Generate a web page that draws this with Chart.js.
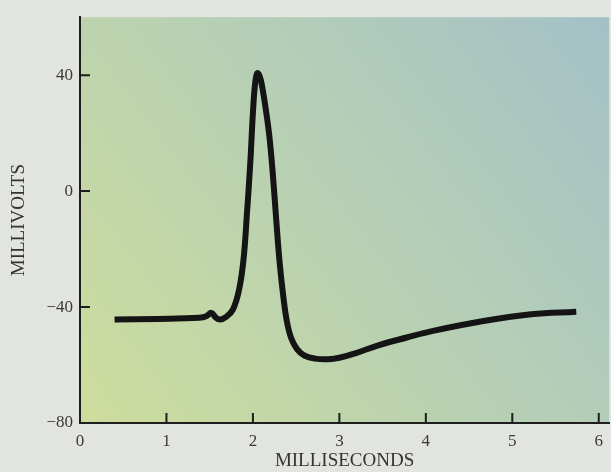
<!DOCTYPE html>
<html>
<head>
<meta charset="utf-8">
<script src="https://cdn.jsdelivr.net/npm/chart.js@4"></script>
<style>
    html, body { margin: 0; padding: 0; background: #e2e4df; }
    #wrap { width: 611px; height: 472px; }
</style>
</head>
<body>
<div id="wrap"><canvas id="actionPotential"></canvas></div>
<script>
// Trace: time in ms, membrane potential in mV
const timeMs = [0.40, 0.90, 1.38, 1.46, 1.52, 1.57, 1.62, 1.69, 1.77, 1.84, 1.89, 1.93, 1.97, 2.00, 2.025, 2.05,
    2.08, 2.11, 2.15, 2.19, 2.23, 2.27, 2.31, 2.35, 2.39, 2.44, 2.51, 2.60, 2.72, 2.87, 3.00,
    3.20, 3.45, 3.78, 4.07, 4.65, 5.22, 5.74];
const millivolts = [-44.3, -44.1, -43.7, -43.2, -42.0, -43.6, -44.3, -43.4, -40.8, -34.0, -24.0, -8.2, 10.0, 27.0, 37.0, 40.7,
    39.5, 35.5, 28.0, 19.0, 6.0, -10.0, -25.0, -36.0, -44.5, -50.5, -54.5, -56.8, -57.8, -58.0, -57.5,
    -55.8, -53.2, -50.5, -48.3, -44.9, -42.5, -41.6];

// Axis ticks
const xTicks = [0, 1, 2, 3, 4, 5, 6];
const yTicks = [-80, -40, 0, 40];

const points = timeMs.map((t, i) => ({ x: t, y: millivolts[i] }));

// Paints the coloured panel behind the plot
const panelBackground = {
    id: 'panelBackground',
    beforeDraw(chart) {
        const { ctx, chartArea: a } = chart;
        const g = ctx.createLinearGradient(a.left, a.bottom, a.right, a.top);
        g.addColorStop(0, 'rgb(206, 221, 156)');
        g.addColorStop(0.3, 'rgb(192, 213, 170)');
        g.addColorStop(0.65, 'rgb(177, 204, 186)');
        g.addColorStop(1, 'rgb(163, 192, 198)');
        ctx.save();
        ctx.fillStyle = g;
        ctx.fillRect(a.left, a.top, a.right - a.left, a.bottom - a.top);
        ctx.restore();
    }
};

// Tick marks pointing into the plot
const innerTicks = {
    id: 'innerTicks',
    afterDraw(chart) {
        const { ctx, chartArea: a, scales } = chart;
        ctx.save();
        ctx.strokeStyle = '#1e1e1e';
        ctx.lineWidth = 2;
        ctx.beginPath();
        scales.x.ticks.forEach(t => {
            const px = scales.x.getPixelForValue(t.value);
            if (px <= a.left + 1) return;
            ctx.moveTo(px, a.bottom);
            ctx.lineTo(px, a.bottom - 10);
        });
        scales.y.ticks.forEach(t => {
            const py = scales.y.getPixelForValue(t.value);
            if (py >= a.bottom - 1) return;
            ctx.moveTo(a.left, py);
            ctx.lineTo(a.left + 10, py);
        });
        ctx.stroke();
        ctx.restore();
    }
};

const ctx = document.getElementById('actionPotential').getContext('2d');

new Chart(ctx, {
    type: 'line',
    data: {
        datasets: [{
            data: points,
            borderColor: '#141414',
            borderWidth: 6,
            pointRadius: 0,
            tension: 0.4,
            borderCapStyle: 'butt',
            borderJoinStyle: 'round'
        }]
    },
    options: {
        responsive: true,
        maintainAspectRatio: false,
        animation: false,
        layout: { padding: { top: 14, right: 0, left: 0, bottom: 0 } },
        plugins: {
            legend: { display: false },
            tooltip: { enabled: false }
        },
        scales: {
            x: {
                type: 'linear',
                min: 0,
                max: 6.12,
                afterBuildTicks: s => { s.ticks = xTicks.map(v => ({ value: v })); },
                afterFit: s => { s.height = 49; },
                grid: { display: true, drawOnChartArea: false, drawTicks: false },
                border: { display: true, color: '#1e1e1e', width: 2 },
                ticks: {
                    color: '#3a3a3a',
                    padding: 8,
                    maxRotation: 0,
                    font: { family: 'Liberation Serif', size: 17 }
                },
                title: {
                    display: true,
                    text: 'MILLISECONDS',
                    color: '#333',
                    padding: { top: 0, bottom: 0 },
                    font: { family: 'Liberation Serif', size: 19 }
                }
            },
            y: {
                min: -80,
                max: 60,
                afterBuildTicks: s => { s.ticks = yTicks.map(v => ({ value: v })); },
                afterFit: s => { s.width = 80; },
                grid: { display: true, drawOnChartArea: false, drawTicks: false },
                border: { display: true, color: '#1e1e1e', width: 2 },
                ticks: {
                    color: '#3a3a3a',
                    padding: 7,
                    font: { family: 'Liberation Serif', size: 17 },
                    callback: v => v < 0 ? '\u2212' + Math.abs(v) : String(v)
                },
                title: {
                    display: true,
                    text: 'MILLIVOLTS',
                    color: '#333',
                    padding: { top: 8, bottom: 0 },
                    font: { family: 'Liberation Serif', size: 19 }
                }
            }
        }
    },
    plugins: [panelBackground, innerTicks]
});
</script>
</body>
</html>
